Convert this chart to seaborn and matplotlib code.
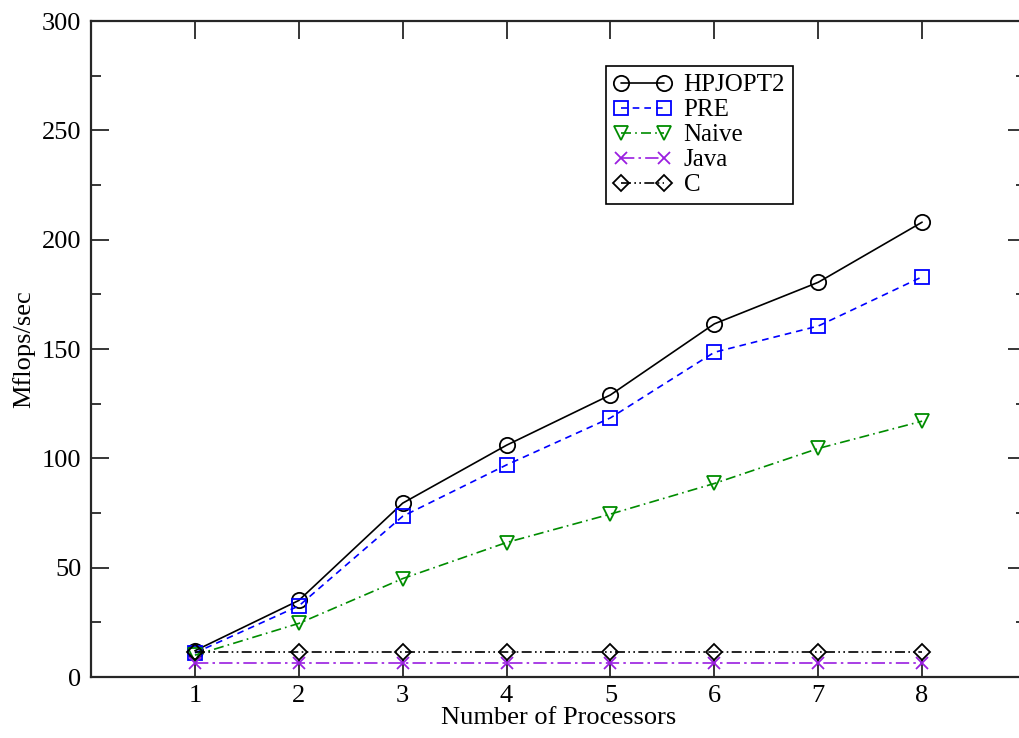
import numpy as np
import pandas as pd
import seaborn as sns
import matplotlib.pyplot as plt

# values
procs = [1, 2, 3, 4, 5, 6, 7, 8]
hpjopt2 = [12, 35, 79.5, 106, 129, 161.5, 180.5, 208]
pre = [11, 32.5, 73.5, 97, 118.5, 148.5, 160.5, 183]
naive = [10, 24.5, 45, 61.5, 74.5, 88.5, 104.5, 117]
java = [6.5, 6.5, 6.5, 6.5, 6.5, 6.5, 6.5, 6.5]
c_lang = [11.5, 11.5, 11.5, 11.5, 11.5, 11.5, 11.5, 11.5]

series_names = ['HPJOPT2', 'PRE', 'Naive', 'Java', 'C']
series_vals = [hpjopt2, pre, naive, java, c_lang]

sns.set_style('ticks')
plt.rcParams['font.family'] = ['Liberation Serif', 'DejaVu Serif']

rows = []
for name, vals in zip(series_names, series_vals):
    for p, v in zip(procs, vals):
        rows.append({'procs': p, 'mflops': v, 'series': name})
df = pd.DataFrame(rows)

#styling per series
colors = {'HPJOPT2': 'black', 'PRE': '#0000ff', 'Naive': '#008c00', 'Java': '#9a1ee0', 'C': 'black'}
markers = {'HPJOPT2': 'o', 'PRE': 's', 'Naive': 'v', 'Java': 'x', 'C': 'D'}
msize = {'HPJOPT2': 11, 'PRE': 9.5, 'Naive': 10, 'Java': 9, 'C': 8.5}
dashes = {'HPJOPT2': (None, None), 'PRE': (4, 3), 'Naive': (6, 2.5, 1, 2.5),
          'Java': (8, 2.5, 1.5, 2.5), 'C': (6, 2, 1, 2, 1, 2)}

fig = plt.figure(figsize=(10.2, 7.38), dpi=100)
ax = fig.add_axes([91 / 1020, 61 / 738, 935 / 1020, 656 / 738])

for name in series_names:
    sub = df[df['series'] == name]
    sns.lineplot(data=sub, x='procs', y='mflops', ax=ax, color=colors[name],
                 marker=markers[name], markersize=msize[name],
                 markerfacecolor='none', markeredgecolor=colors[name],
                 markeredgewidth=1.3, linewidth=1.2, label=name)
    line = ax.lines[-1]
    if dashes[name][0] is not None:
        line.set_dashes(dashes[name])

ax.set_xlim(0, 9)
ax.set_ylim(0, 300)
ax.set_xticks(procs)
ax.set_yticks(np.arange(0, 301, 50))
ax.set_yticks(np.arange(0, 301, 25), minor=True)
ax.tick_params(axis='both', which='major', direction='in', length=13, width=1.3,
               labelsize=19, top=True, right=True, labelcolor='black')
ax.tick_params(axis='y', which='minor', direction='in', length=7, width=1.3, right=True)
ax.tick_params(axis='x', which='major', pad=6)
ax.tick_params(axis='y', which='major', pad=7)
for s in ax.spines.values():
    s.set_linewidth(1.6)

ax.set_xlabel('Number of Processors', fontsize=19, labelpad=0, color='black')
ax.set_ylabel('Mflops/sec', fontsize=19, labelpad=5, color='black')

leg = ax.legend(loc='upper left', bbox_to_anchor=(0.551, 0.931), borderaxespad=0,
                fontsize=18, frameon=True, fancybox=False, edgecolor='black',
                numpoints=2, handlelength=2.3, handletextpad=0.5,
                labelspacing=0.1, borderpad=0.3)
leg.get_frame().set_linewidth(1.2)
leg.get_frame().set_alpha(1)
for t in leg.get_texts():
    t.set_color('black')

fig.savefig('out.png', dpi=100)
